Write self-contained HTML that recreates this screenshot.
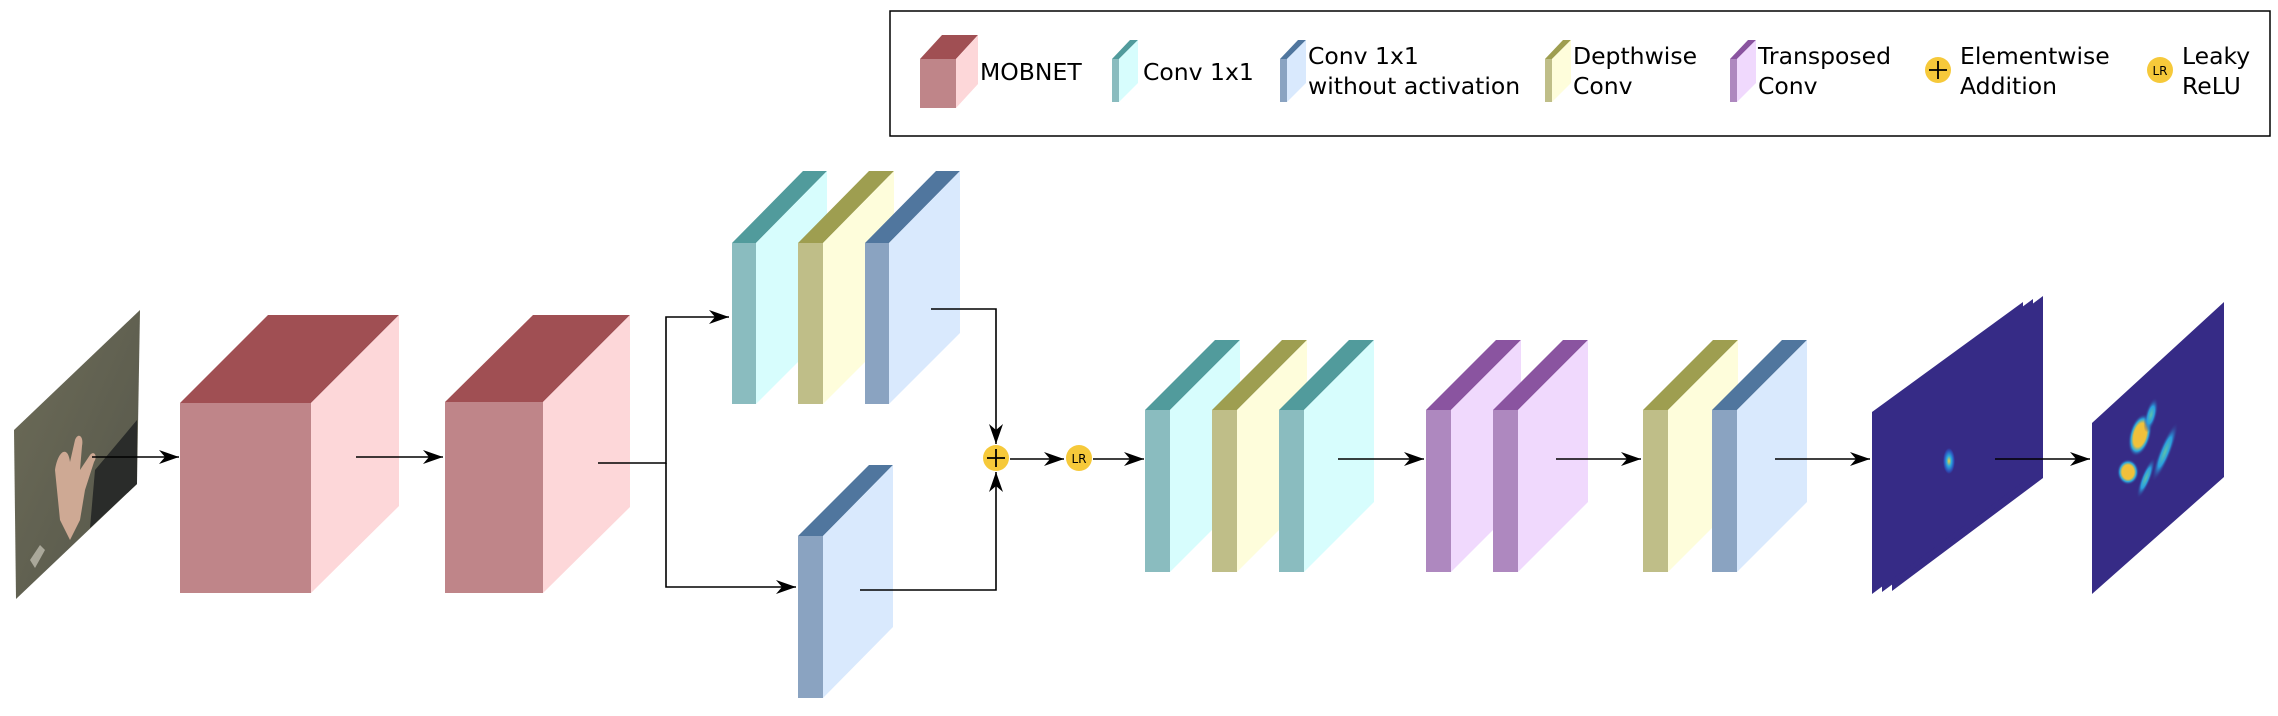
<!DOCTYPE html>
<html><head><meta charset="utf-8"><style>
html,body{margin:0;padding:0;background:#fff;}
svg{display:block;}
text{font-family:"DejaVu Sans","Liberation Sans",sans-serif;font-size:23.5px;fill:#000;}
</style></head><body>
<svg width="2278" height="716" viewBox="0 0 2278 716" xmlns="http://www.w3.org/2000/svg">
<defs>
<marker id="ah" viewBox="0 0 20 14" refX="20" refY="7" markerWidth="20" markerHeight="14" markerUnits="userSpaceOnUse" orient="auto">
<path d="M0,0 L20,7 L0,14 L6,7 Z" fill="#000"/>
</marker>
<linearGradient id="ph" x1="0" y1="0" x2="1" y2="1">
<stop offset="0" stop-color="#6d6c58"/><stop offset="1" stop-color="#55564a"/>
</linearGradient>
<radialGradient id="b1" cx="0.5" cy="0.5" r="0.5">
<stop offset="0" stop-color="#f6d03a"/><stop offset="0.4" stop-color="#2aa9e0"/><stop offset="0.8" stop-color="#2d4fb8"/><stop offset="1" stop-color="#362b86"/>
</radialGradient>
<radialGradient id="b2" cx="0.5" cy="0.5" r="0.5">
<stop offset="0" stop-color="#f1be3c"/><stop offset="0.55" stop-color="#f0c23a"/><stop offset="0.75" stop-color="#2aa9e0"/><stop offset="1" stop-color="#362b86" stop-opacity="0"/>
</radialGradient>
<radialGradient id="b3" cx="0.5" cy="0.5" r="0.5">
<stop offset="0" stop-color="#5fc2a8"/><stop offset="0.5" stop-color="#2a9fe0"/><stop offset="1" stop-color="#362b86" stop-opacity="0"/>
</radialGradient>
</defs>

<!-- Legend -->
<rect x="890" y="11" width="1380" height="125" fill="#fff" stroke="#000" stroke-width="1.5"/>
<polygon points="920,59 942,35 978,35 956,59" fill="#a04f53"/>
<polygon points="956,59 978,35 978,84 956,108" fill="#fdd7d9"/>
<rect x="920" y="59" width="36" height="49" fill="#bf8589"/>
<text x="980" y="80">MOBNET</text>

<polygon points="1112,59 1130,40 1138,40 1119,59" fill="#519b9c"/>
<polygon points="1119,59 1138,40 1138,83 1119,102" fill="#d7fdfd"/>
<rect x="1112" y="59" width="7" height="43" fill="#8abcbf"/>
<text x="1143" y="80">Conv 1x1</text>

<polygon points="1280,59 1298,40 1306,40 1287,59" fill="#50769e"/>
<polygon points="1287,59 1306,40 1306,83 1287,102" fill="#d9e9fd"/>
<rect x="1280" y="59" width="7" height="43" fill="#8aa3c1"/>
<text x="1308" y="64">Conv 1x1</text>
<text x="1308" y="94">without activation</text>

<polygon points="1545,59 1563,40 1571,40 1552,59" fill="#9e9e50"/>
<polygon points="1552,59 1571,40 1571,83 1552,102" fill="#fefddb"/>
<rect x="1545" y="59" width="7" height="43" fill="#bfbe88"/>
<text x="1573" y="64">Depthwise</text>
<text x="1573" y="94">Conv</text>

<polygon points="1730,59 1748,40 1756,40 1737,59" fill="#8a54a0"/>
<polygon points="1737,59 1756,40 1756,83 1737,102" fill="#f0d9fd"/>
<rect x="1730" y="59" width="7" height="43" fill="#ae88bf"/>
<text x="1758" y="64">Transposed</text>
<text x="1758" y="94">Conv</text>

<circle cx="1938" cy="70" r="13" fill="#f6c93a"/>
<path d="M1929,70 H1947 M1938,61 V79" stroke="#000" stroke-width="1.8"/>
<text x="1960" y="64">Elementwise</text>
<text x="1960" y="94">Addition</text>

<circle cx="2160" cy="70" r="13" fill="#f6c93a"/>
<text x="2160" y="75" text-anchor="middle" style="font-size:12px">LR</text>
<text x="2182" y="64">Leaky</text>
<text x="2182" y="94">ReLU</text>

<!-- Photo -->
<polygon points="140,310 137,484 16,599 14,430" fill="url(#ph)"/>
<path d="M55,470 C58,450 68,445 70,462 L75,440 C78,432 84,436 82,446 L80,470 L90,455 C94,450 98,456 94,462 L85,490 L80,520 L70,540 L60,520 Z" fill="#d4ad98" opacity="0.95"/>
<polygon points="137,420 137,484 90,528 95,470" fill="#2a2c2a"/>
<polygon points="30,560 40,545 45,550 35,568" fill="#aaa89a"/>

<!-- MOBNET 1 -->
<polygon points="180,403 268,315 399,315 311,403" fill="#a04f53"/>
<polygon points="311,403 399,315 399,506 311,593" fill="#fdd7d9"/>
<rect x="180" y="403" width="131" height="190" fill="#bf8589"/>
<!-- MOBNET 2 -->
<polygon points="445,402 533,315 630,315 543,402" fill="#a04f53"/>
<polygon points="543,402 630,315 630,507 543,593" fill="#fdd7d9"/>
<rect x="445" y="402" width="98" height="191" fill="#bf8589"/>

<g stroke="#000" stroke-width="1.6" fill="none">
<line x1="92" y1="457" x2="179" y2="457" marker-end="url(#ah)"/>
<line x1="356" y1="457" x2="443" y2="457" marker-end="url(#ah)"/>
<polyline points="598,463 666,463 666,317 729,317" marker-end="url(#ah)"/>
<polyline points="666,463 666,587 796,587" marker-end="url(#ah)"/>
</g>

<!-- Top branch stack -->
<polygon points="732,243 803,171 827,171 756,243" fill="#519b9c"/>
<polygon points="756,243 827,171 827,333 756,404" fill="#d7fdfd"/>
<rect x="732" y="243" width="24" height="161" fill="#8abcbf"/>
<polygon points="798,243 869,171 894,171 823,243" fill="#9e9e50"/>
<polygon points="823,243 894,171 894,333 823,404" fill="#fefddb"/>
<rect x="798" y="243" width="25" height="161" fill="#bfbe88"/>
<polygon points="865,243 936,171 960,171 889,243" fill="#50769e"/>
<polygon points="889,243 960,171 960,333 889,404" fill="#d9e9fd"/>
<rect x="865" y="243" width="24" height="161" fill="#8aa3c1"/>
<!-- Bottom branch -->
<polygon points="798,536 869,465 893,465 823,536" fill="#50769e"/>
<polygon points="823,536 893,465 893,627 823,698" fill="#d9e9fd"/>
<rect x="798" y="536" width="25" height="162" fill="#8aa3c1"/>

<g stroke="#000" stroke-width="1.6" fill="none">
<polyline points="931,309 996,309 996,444" marker-end="url(#ah)"/>
<polyline points="860,590 996,590 996,472" marker-end="url(#ah)"/>
<line x1="1010" y1="459" x2="1064" y2="459" marker-end="url(#ah)"/>
<line x1="1093" y1="459" x2="1144" y2="459" marker-end="url(#ah)"/>
</g>
<circle cx="996" cy="458" r="13" fill="#f6c93a"/>
<path d="M987,458 H1005 M996,449 V467" stroke="#000" stroke-width="1.8"/>
<circle cx="1079" cy="458" r="13" fill="#f6c93a"/>
<text x="1079" y="463" text-anchor="middle" style="font-size:12px">LR</text>

<!-- Stack 2 -->
<g transform="translate(-5,0)">
<polygon points="1150,410 1220,340 1245,340 1175,410" fill="#519b9c"/>
<polygon points="1175,410 1245,340 1245,502 1175,572" fill="#d7fdfd"/>
<rect x="1150" y="410" width="25" height="162" fill="#8abcbf"/>
<polygon points="1217,410 1287,340 1312,340 1242,410" fill="#9e9e50"/>
<polygon points="1242,410 1312,340 1312,502 1242,572" fill="#fefddb"/>
<rect x="1217" y="410" width="25" height="162" fill="#bfbe88"/>
<polygon points="1284,410 1354,340 1379,340 1309,410" fill="#519b9c"/>
<polygon points="1309,410 1379,340 1379,502 1309,572" fill="#d7fdfd"/>
<rect x="1284" y="410" width="25" height="162" fill="#8abcbf"/>
</g>

<g transform="translate(-7,0)">
<!-- Purple -->
<polygon points="1433,410 1503,340 1528,340 1458,410" fill="#8a54a0"/>
<polygon points="1458,410 1528,340 1528,502 1458,572" fill="#f0d9fd"/>
<rect x="1433" y="410" width="25" height="162" fill="#ae88bf"/>
<polygon points="1500,410 1570,340 1595,340 1525,410" fill="#8a54a0"/>
<polygon points="1525,410 1595,340 1595,502 1525,572" fill="#f0d9fd"/>
<rect x="1500" y="410" width="25" height="162" fill="#ae88bf"/>

<!-- Yellow + blue -->
<polygon points="1650,410 1720,340 1745,340 1675,410" fill="#9e9e50"/>
<polygon points="1675,410 1745,340 1745,502 1675,572" fill="#fefddb"/>
<rect x="1650" y="410" width="25" height="162" fill="#bfbe88"/>
<polygon points="1719,410 1789,340 1814,340 1744,410" fill="#50769e"/>
<polygon points="1744,410 1814,340 1814,502 1744,572" fill="#d9e9fd"/>
<rect x="1719" y="410" width="25" height="162" fill="#8aa3c1"/>
</g>

<g stroke="#000" stroke-width="1.6" fill="none">
<line x1="1338" y1="459" x2="1424" y2="459" marker-end="url(#ah)"/>
<line x1="1556" y1="459" x2="1641" y2="459" marker-end="url(#ah)"/>
<line x1="1775" y1="459" x2="1870" y2="459" marker-end="url(#ah)"/>
</g>

<g transform="translate(-9,0)">
<!-- Heatmap 1 (stacked) -->
<polygon points="1901,409 2052,296 2052,478 1901,591" fill="#362b86"/>
<polygon points="1891,410 2042,299 2042,480 1891,592" fill="#362b86"/>
<polygon points="1881,412 2032,302 2032,482 1881,594" fill="#362b86"/>
<ellipse cx="1958" cy="461" rx="6" ry="13" fill="url(#b1)"/>

<line x1="2004" y1="459" x2="2099" y2="459" stroke="#000" stroke-width="1.6" marker-end="url(#ah)"/>

<!-- Heatmap 2 -->
<polygon points="2101,423 2233,302 2233,477 2101,594" fill="#362b86"/>
<ellipse cx="2149" cy="435" rx="11" ry="22" fill="url(#b2)" transform="rotate(15 2149 435)"/>
<ellipse cx="2137" cy="472" rx="11" ry="13" fill="url(#b2)"/>
<ellipse cx="2160" cy="415" rx="6" ry="18" fill="url(#b3)" transform="rotate(15 2160 415)"/>
<ellipse cx="2174" cy="452" rx="6" ry="32" fill="url(#b3)" transform="rotate(22 2174 452)"/>
<ellipse cx="2155" cy="478" rx="5" ry="22" fill="url(#b3)" transform="rotate(22 2155 478)"/>
</g>
</svg>
</body></html>
